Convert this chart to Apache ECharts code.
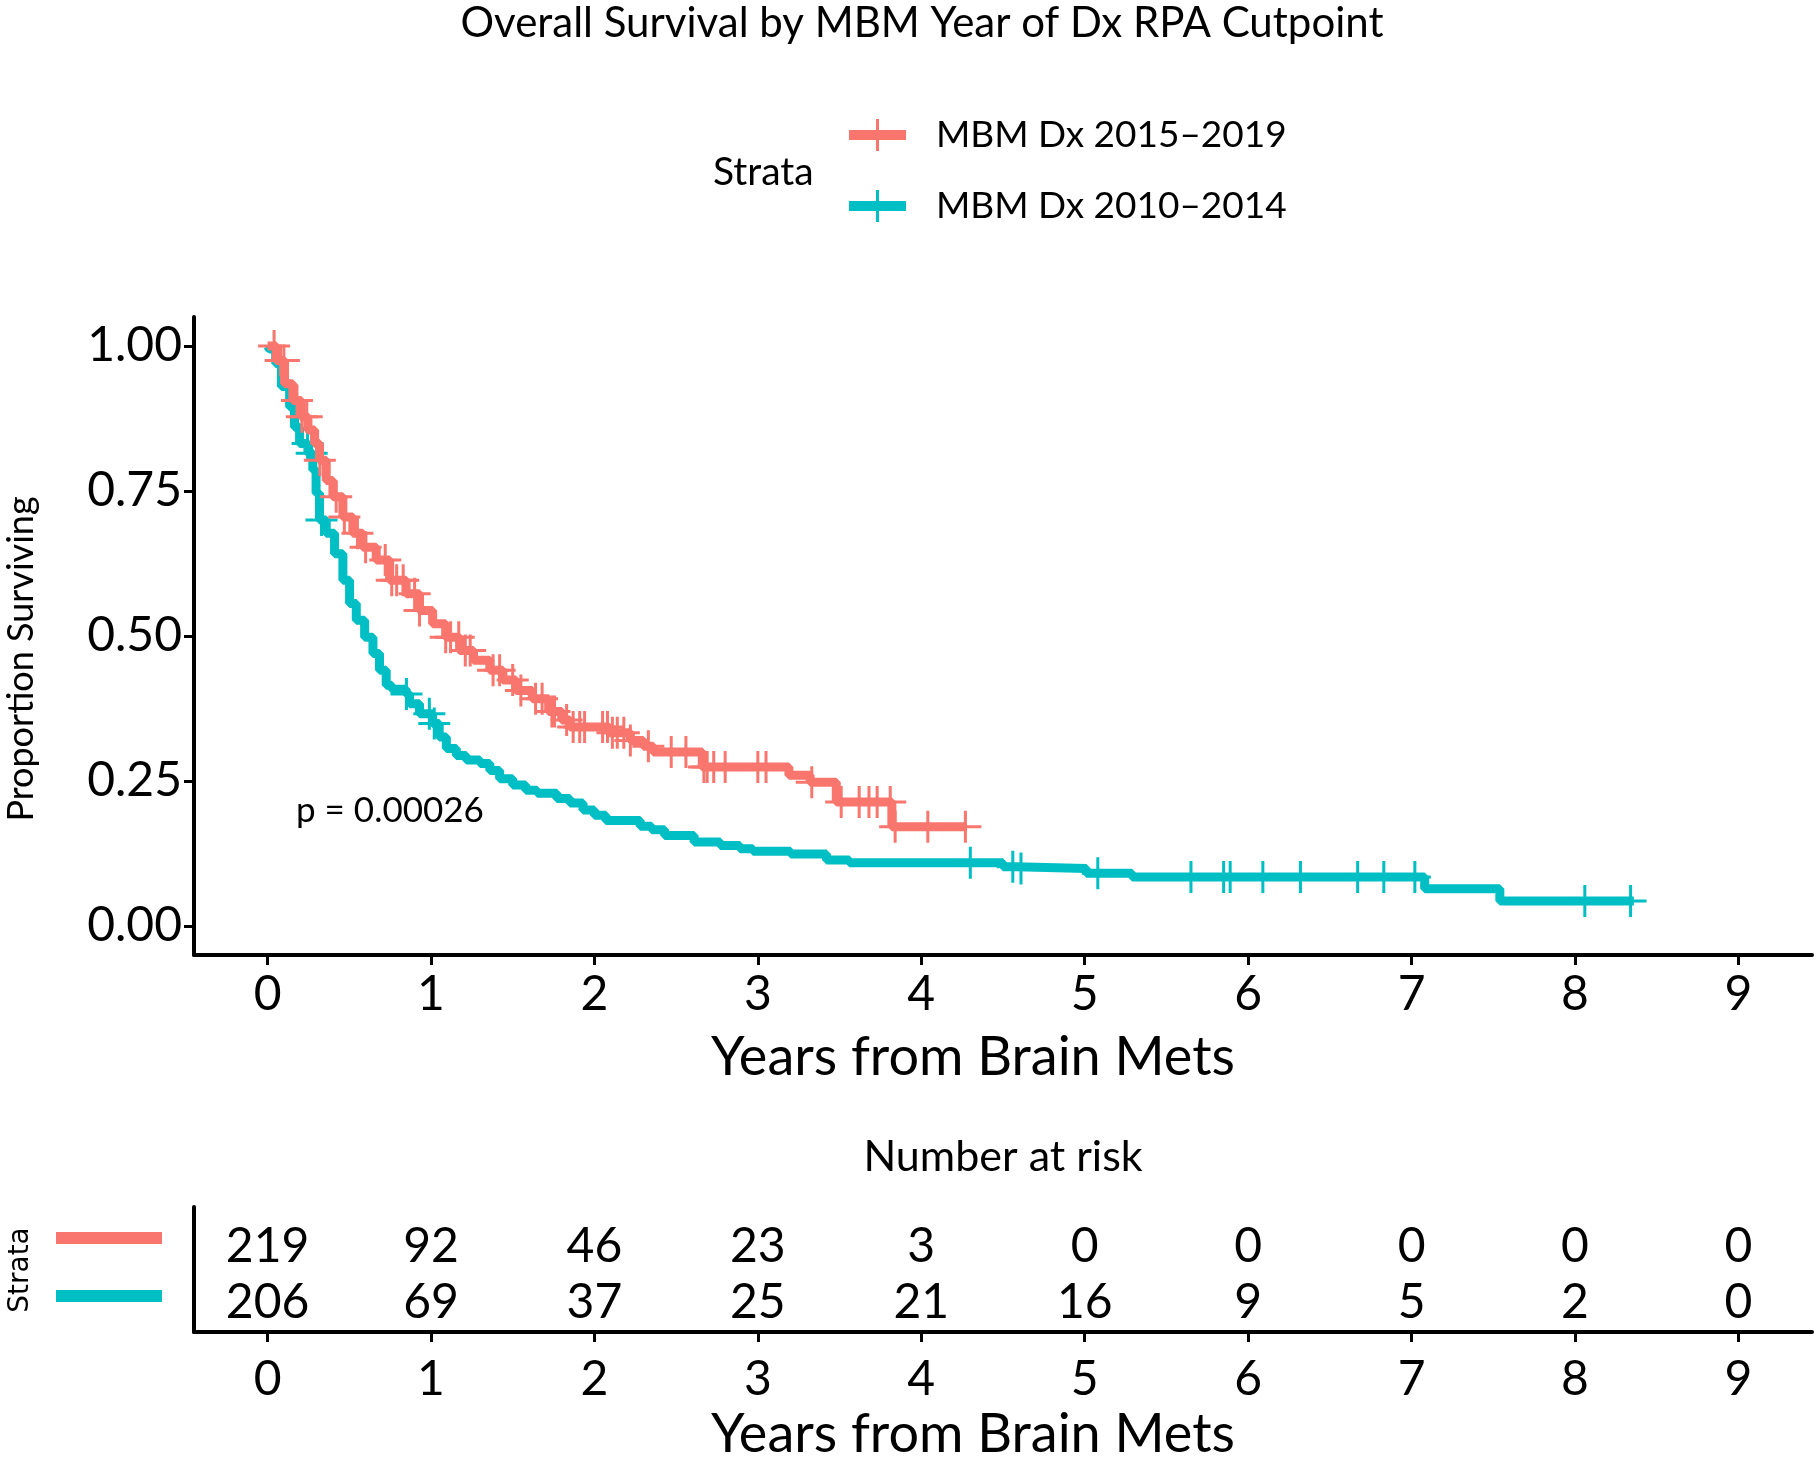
<!DOCTYPE html>
<html>
<head>
<meta charset="utf-8">
<title>Overall Survival by MBM Year of Dx RPA Cutpoint</title>
<script src="https://cdn.jsdelivr.net/npm/echarts@6/dist/echarts.min.js"></script>
<style>
  html, body { margin: 0; padding: 0; background: #fff; }
  #chart { width: 1819px; height: 1461px; }
</style>
</head>
<body>
<div id="chart"></div>
<script>
// KM step points (time in years, proportion surviving)
const redName = 'MBM Dx 2015\u20132019'
const tealName = 'MBM Dx 2010\u20132014'

const redTimes = [0, 0.053, 0.104, 0.155, 0.206, 0.247, 0.288, 0.318, 0.359, 0.40, 0.461, 0.522, 0.583, 0.665, 0.747, 0.848, 0.93, 1.01, 1.09, 1.175, 1.26, 1.36, 1.44, 1.52, 1.62, 1.72, 1.80, 1.85, 2.09, 2.22, 2.30, 2.36, 2.66, 3.19, 3.32, 3.48, 3.82, 4.28]
const redSurv = [1.0, 0.975, 0.935, 0.906, 0.878, 0.855, 0.832, 0.803, 0.768, 0.74, 0.705, 0.677, 0.653, 0.631, 0.596, 0.573, 0.544, 0.521, 0.498, 0.475, 0.458, 0.441, 0.424, 0.406, 0.392, 0.37, 0.355, 0.343, 0.333, 0.32, 0.31, 0.30, 0.274, 0.26, 0.248, 0.214, 0.171, 0.171]
const redCensor = [0.04, 0.08, 0.1, 0.18, 0.21, 0.24, 0.32, 0.42, 0.47, 0.55, 0.6, 0.72, 0.76, 0.79, 0.83, 0.9, 0.93, 1.09, 1.12, 1.17, 1.21, 1.24, 1.38, 1.42, 1.5, 1.55, 1.64, 1.68, 1.74, 1.756, 1.83, 1.87, 1.91, 1.94, 2.05, 2.08, 2.11, 2.14, 2.18, 2.22, 2.33, 2.47, 2.56, 2.67, 2.69, 2.73, 2.80, 3.00, 3.05, 3.33, 3.51, 3.62, 3.68, 3.73, 3.81, 3.84, 4.04, 4.27]

const tealTimes = [0, 0.012, 0.05, 0.085, 0.135, 0.165, 0.196, 0.247, 0.277, 0.297, 0.318, 0.359, 0.41, 0.461, 0.502, 0.543, 0.594, 0.645, 0.685, 0.726, 0.76, 0.848, 0.869, 0.93, 1.01, 1.05, 1.094, 1.155, 1.216, 1.30, 1.36, 1.42, 1.50, 1.58, 1.65, 1.77, 1.85, 1.93, 2.00, 2.07, 2.28, 2.35, 2.43, 2.61, 2.77, 2.89, 2.97, 3.20, 3.42, 3.56, 4.50, 4.58, 5.01, 5.29, 7.08, 7.54, 8.36]
const tealSurv = [1.0, 0.995, 0.97, 0.93, 0.895, 0.86, 0.832, 0.815, 0.786, 0.746, 0.70, 0.677, 0.642, 0.596, 0.556, 0.527, 0.498, 0.47, 0.441, 0.415, 0.408, 0.40, 0.383, 0.366, 0.349, 0.326, 0.306, 0.294, 0.286, 0.28, 0.268, 0.254, 0.243, 0.234, 0.229, 0.22, 0.212, 0.20, 0.191, 0.182, 0.172, 0.166, 0.156, 0.145, 0.139, 0.133, 0.129, 0.124, 0.114, 0.109, 0.102, 0.099, 0.091, 0.0845, 0.0644, 0.043, 0.043]
const tealCensor = [0.245, 0.27, 0.33, 0.85, 0.99, 1.02, 4.30, 4.56, 4.61, 5.08, 5.65, 5.85, 5.89, 6.09, 6.32, 6.67, 6.83, 7.02, 8.06, 8.34]

// number at risk table
const riskTimes = [0, 1, 2, 3, 4, 5, 6, 7, 8, 9]
const riskRed = [219, 92, 46, 23, 3, 0, 0, 0, 0, 0]
const riskTeal = [206, 69, 37, 25, 21, 16, 9, 5, 2, 0]

const xTicks = [0, 1, 2, 3, 4, 5, 6, 7, 8, 9]
const yTicks = [0, 0.25, 0.5, 0.75, 1]

const RED = '#F8766D'
const TEAL = '#00BFC4'
const FONT = 'Lato'
const PLUS = 'path://M14.5,0h3v14.5h14.5v3h-14.5v14.5h-3v-14.5h-14.5v-3h14.5z'
const LEGEND_ICON = 'path://M0,11h57v10h-57z M27,0h3v32h-3z'

// survival value at time t (step function)
function survAt(times, surv, t) {
  let s = surv[0]
  for (let i = 0; i < times.length; i++) {
    if (times[i] <= t) s = surv[i]
  }
  return s
}

const zip = (a, b) => a.map((v, i) => [v, b[i]])
const censorPts = (c, times, surv) => c.map(t => [t, survAt(times, surv, t)])

function xAxisOf(gridIndex, labelMargin) {
  return {
    type: 'value',
    gridIndex: gridIndex,
    min: -0.45,
    max: 9.45,
    name: 'Years from Brain Mets',
    nameLocation: 'middle',
    nameGap: 76,
    nameMoveOverlap: false,
    nameTextStyle: { fontFamily: FONT, fontSize: 54, color: '#000', padding: [0, 60, 0, 0] },
    axisLine: { onZero: false, lineStyle: { color: '#000', width: 4 } },
    axisTick: { show: true, customValues: xTicks, length: 10, lineStyle: { color: '#000', width: 3 } },
    axisLabel: { customValues: xTicks, fontFamily: FONT, fontSize: 48, color: '#000', margin: labelMargin },
    splitLine: { show: false }
  }
}

function riskRow(values, row) {
  return {
    type: 'scatter', xAxisIndex: 1, yAxisIndex: 1, symbolSize: 0,
    itemStyle: { opacity: 1 },
    label: {
      show: true, position: 'inside', offset: [0, 5], formatter: p => p.value[2],
      fontFamily: FONT, fontSize: 48, color: '#000', opacity: 1
    },
    data: riskTimes.map((t, i) => [t, row, values[i]])
  }
}

const chart = echarts.init(document.getElementById('chart'), null, { renderer: 'canvas' })

const option = {
  backgroundColor: '#fff',
  animation: false,
  textStyle: { fontFamily: FONT },
  legend: {
    data: [redName, tealName],
    orient: 'vertical',
    left: 844,
    top: 110,
    icon: LEGEND_ICON,
    itemWidth: 57,
    itemHeight: 32,
    itemGap: 31,
    textStyle: { fontFamily: FONT, fontSize: 37, color: '#000', lineHeight: 40, padding: [0, 0, 0, 25] }
  },
  grid: [
    { left: 194, right: 7, top: 317, height: 638, outerBoundsMode: 'none' },
    { left: 194, right: 7, top: 1207, height: 125, outerBoundsMode: 'none' }
  ],
  xAxis: [xAxisOf(0, 16), xAxisOf(1, 24)],
  yAxis: [
    {
      type: 'value',
      gridIndex: 0,
      min: -0.05,
      max: 1.05,
      name: 'Proportion Surviving',
      nameLocation: 'middle',
      nameRotate: 90,
      nameGap: 155,
      nameMoveOverlap: false,
      nameTextStyle: { fontFamily: FONT, fontSize: 36, color: '#000', padding: [0, 46, 0, 0] },
      axisLine: { show: true, onZero: false, lineStyle: { color: '#000', width: 4 } },
      axisTick: { show: true, customValues: yTicks, length: 10, lineStyle: { color: '#000', width: 3 } },
      axisLabel: {
        customValues: yTicks,
        formatter: v => v.toFixed(2),
        fontFamily: FONT, fontSize: 48, color: '#000', margin: 12
      },
      splitLine: { show: false }
    },
    {
      type: 'value',
      gridIndex: 1,
      min: 0.4,
      max: 2.6,
      axisLine: { show: true, onZero: false, lineStyle: { color: '#000', width: 4 } },
      axisTick: { show: false },
      axisLabel: { show: false },
      splitLine: { show: false }
    }
  ],
  series: [
    {
      name: tealName, type: 'line', step: 'end', color: TEAL,
      xAxisIndex: 0, yAxisIndex: 0, showSymbol: false, symbol: 'none',
      lineStyle: { width: 9, color: TEAL },
      data: zip(tealTimes, tealSurv), z: 2
    },
    {
      name: tealName, type: 'scatter', color: TEAL,
      xAxisIndex: 0, yAxisIndex: 0, symbol: PLUS, symbolSize: 32,
      itemStyle: { color: TEAL, opacity: 1 },
      data: censorPts(tealCensor, tealTimes, tealSurv), z: 3
    },
    {
      name: redName, type: 'line', step: 'end', color: RED,
      xAxisIndex: 0, yAxisIndex: 0, showSymbol: false, symbol: 'none',
      lineStyle: { width: 9, color: RED },
      data: zip(redTimes, redSurv), z: 4
    },
    {
      name: redName, type: 'scatter', color: RED,
      xAxisIndex: 0, yAxisIndex: 0, symbol: PLUS, symbolSize: 32,
      itemStyle: { color: RED, opacity: 1 },
      data: censorPts(redCensor, redTimes, redSurv), z: 5
    },
    // risk table rows
    riskRow(riskRed, 2),
    riskRow(riskTeal, 1)
  ],
  graphic: [
    {
      type: 'text', x: 922, y: 23,
      style: { text: 'Overall Survival by MBM Year of Dx RPA Cutpoint', fontFamily: FONT, fontSize: 42, fill: '#000', align: 'center', verticalAlign: 'middle' }
    },
    {
      type: 'text', x: 713, y: 172,
      style: { text: 'Strata', fontFamily: FONT, fontSize: 39, fill: '#000', align: 'left', verticalAlign: 'middle' }
    },
    {
      type: 'text', x: 296, y: 811,
      style: { text: 'p = 0.00026', fontFamily: FONT, fontSize: 35, fill: '#000', align: 'left', verticalAlign: 'middle' }
    },
    {
      type: 'text', x: 1003, y: 1157,
      style: { text: 'Number at risk', fontFamily: FONT, fontSize: 43, fill: '#000', align: 'center', verticalAlign: 'middle' }
    },
    {
      type: 'text', x: 21, y: 1270, rotation: Math.PI / 2,
      style: { text: 'Strata', fontFamily: 'DejaVu Sans', fontSize: 28, fill: '#000', align: 'center', verticalAlign: 'middle' }
    },
    { type: 'rect', shape: { x: 56, y: 1232, width: 106, height: 12 }, style: { fill: RED } },
    { type: 'rect', shape: { x: 56, y: 1290, width: 106, height: 12 }, style: { fill: TEAL } }
  ]
}

chart.setOption(option)
</script>
</body>
</html>
